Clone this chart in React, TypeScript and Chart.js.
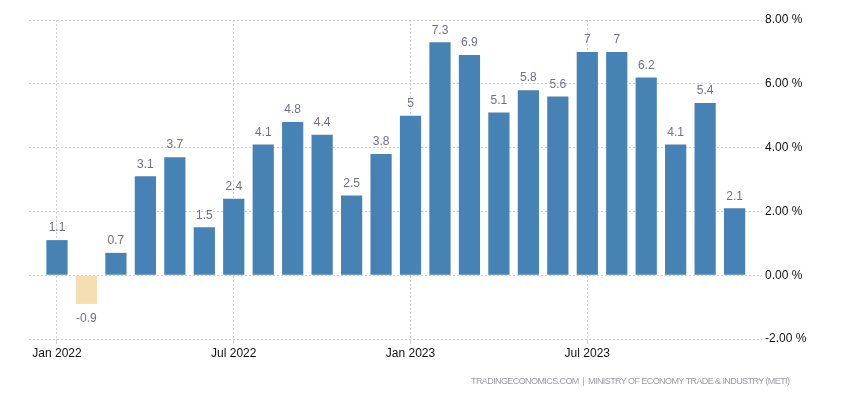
import React, { useEffect, useRef } from "react";
import { Chart, registerables } from "chart.js";

Chart.register(...registerables);

const months = [
  "Jan 2022", "Feb 2022", "Mar 2022", "Apr 2022", "May 2022", "Jun 2022",
  "Jul 2022", "Aug 2022", "Sep 2022", "Oct 2022", "Nov 2022", "Dec 2022",
  "Jan 2023", "Feb 2023", "Mar 2023", "Apr 2023", "May 2023", "Jun 2023",
  "Jul 2023", "Aug 2023", "Sep 2023", "Oct 2023", "Nov 2023", "Dec 2023",
];
const values = [
  1.1, -0.9, 0.7, 3.1, 3.7, 1.5, 2.4, 4.1, 4.8, 4.4, 2.5, 3.8,
  5, 7.3, 6.9, 5.1, 5.8, 5.6, 7, 7, 6.2, 4.1, 5.4, 2.1,
];
const xTickIndexes = [0, 6, 12, 18];
const yTicks = [-2, 0, 2, 4, 6, 8];
const sourceText = "TRADINGECONOMICS.COM  |  MINISTRY OF ECONOMY TRADE & INDUSTRY (METI)";

const POS = "#4682B4";
const NEG = "#F5DEB3";
const LABEL = "#6F6F8F";
const FONT = "'Liberation Sans', Arial, sans-serif";

const labelPlugin = {
  id: "valueLabels",
  afterDatasetsDraw(chart: any) {
    const ctx = chart.ctx;
    const meta = chart.getDatasetMeta(0);
    ctx.save();
    ctx.font = `12px ${FONT}`;
    ctx.fillStyle = LABEL;
    ctx.textAlign = "center";
    ctx.textBaseline = "middle";
    meta.data.forEach((bar: any, i: number) => {
      const v = values[i];
      const y = v >= 0 ? bar.y - 12 : bar.y + 15;
      ctx.fillText(String(v), bar.x, y);
    });
    ctx.restore();
  },
  afterDraw(chart: any) {
    const ctx = chart.ctx;
    ctx.save();
    ctx.font = `9px ${FONT}`;
    ctx.fillStyle = "#9a9aa6";
    ctx.textBaseline = "middle";
    ctx.textAlign = "left";
    const target = 319;
    const w = ctx.measureText(sourceText).width;
    const n = sourceText.length - 1;
    const ls = (target - w) / n;
    (ctx as any).letterSpacing = `${ls}px`;
    ctx.fillText(sourceText, 790 - target, 382);
    ctx.restore();
  },
};

export default function App() {
  const ref = useRef<HTMLCanvasElement | null>(null);
  useEffect(() => {
    if (!ref.current) return;
    const chart = new Chart(ref.current, {
      type: "bar",
      data: {
        datasets: [
          {
            data: values.map((v, i) => ({ x: i, y: v })),
            backgroundColor: values.map((v) => (v >= 0 ? POS : NEG)),
            categoryPercentage: 1,
            barPercentage: 0.72,
          },
        ],
      },
      options: {
        animation: false,
        responsive: false,
        maintainAspectRatio: false,
        layout: { padding: { top: 20, left: 29, right: 0, bottom: 0 } },
        plugins: { legend: { display: false }, tooltip: { enabled: false } },
        scales: {
          x: {
            type: "linear",
            offset: false,
            min: -0.95,
            max: 23.93,
            afterBuildTicks(scale: any) {
              scale.ticks = xTickIndexes.map((v) => ({ value: v }));
            },
            afterFit(scale: any) {
              scale.height = 61;
            },
            ticks: {
              callback: (v: any) => months[Number(v)] ?? "",
              color: "#111",
              font: { size: 12, family: FONT },
              padding: 2,
              maxRotation: 0,
              autoSkip: false,
            },
            grid: {
              offset: false,
              color: "#d0d0d0",
              tickLength: 5,
              lineWidth: 1,
            },
            border: { display: false, dash: [2, 2] },
          },
          y: {
            position: "right",
            min: -2,
            max: 8,
            afterBuildTicks(scale: any) {
              scale.ticks = yTicks.map((v) => ({ value: v }));
            },
            afterFit(scale: any) {
              scale.width = 88;
            },
            ticks: {
              callback: (v: any) => Number(v).toFixed(2) + " %",
              color: "#111",
              font: { size: 12, family: FONT },
              padding: 3,
            },
            grid: { color: "#d0d0d0", drawTicks: false, lineWidth: 1 },
            border: { display: false, dash: [2, 2] },
          },
        },
      },
      plugins: [labelPlugin],
    } as any);
    return () => chart.destroy();
  }, []);
  return (
    <div style={{ position: "absolute", left: 0, top: 0, width: 850, height: 400, background: "#fff" }}>
      <canvas ref={ref} width={850} height={400} style={{ width: 850, height: 400 }} />
    </div>
  );
}
